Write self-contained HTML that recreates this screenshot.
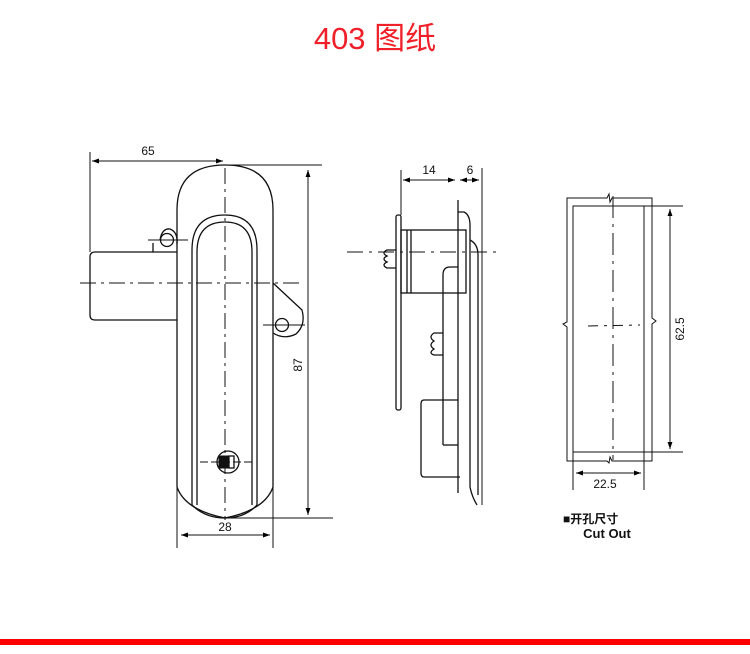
<!DOCTYPE html>
<html><head><meta charset="utf-8"><style>
html,body{margin:0;padding:0;background:#fff;width:750px;height:654px;overflow:hidden}
svg{display:block}
text{font-family:"Liberation Sans","Noto Sans CJK SC",sans-serif}
</style></head><body>
<svg width="750" height="654" viewBox="0 0 750 654" xmlns="http://www.w3.org/2000/svg">
<defs>
<marker id="a" viewBox="0 0 10 10" refX="10" refY="5" markerWidth="7" markerHeight="7" orient="auto-start-reverse"><path d="M0,1.5 L10,5 L0,8.5 z" fill="#000"/></marker>
</defs>
<text x="375" y="49" font-size="31" fill="#f0202a" text-anchor="middle">403 图纸</text>
<rect x="0" y="639" width="750" height="6" fill="#ff0000"/>

<g fill="none" stroke="#111" stroke-width="1.3">
<!-- LEFT VIEW -->
<path d="M177,487 L177,210 Q177,165 225,165 Q273,165 273,210 L273,487 Q265,510 225,518 Q185,510 177,487"/>
<path d="M192,505 L192,250 Q192,215 225,215 Q257,215 257,250 L257,505"/>
<path d="M197,505 L197,252 Q197,222 225,222 Q252,222 252,252 L252,505"/>
<path d="M192,505 Q205,518 225,518 Q245,518 257,505"/>
<path d="M177,252 L153,252 L153,243"/>
<path d="M160,240 Q162,228 170,229 Q178,232 177,244"/>
<circle cx="167" cy="240" r="6.5"/>
<path d="M177,320 L95,320 Q90,320 90,315 L90,257 Q90,252 95,252 L153,252"/>
<path d="M273,283 L302,310 Q306,325 296,334 Q284,340 273,333"/>
<circle cx="282" cy="325" r="6.5"/>
<circle cx="228" cy="462" r="11"/>
<rect x="219" y="456" width="10" height="12" fill="#111" stroke-width="1"/>
<rect x="229" y="456" width="5" height="12"/>
<!-- centerlines -->
<g stroke-width="1" stroke-dasharray="16,5,3,5">
<line x1="225" y1="168" x2="225" y2="520"/>
<line x1="80" y1="283" x2="302" y2="283"/>
<line x1="200" y1="462" x2="255" y2="462" stroke-dasharray="8,3"/>
<line x1="148" y1="240" x2="188" y2="240" stroke-dasharray="none"/>
<line x1="263" y1="325" x2="305" y2="325" stroke-dasharray="none"/>
</g>
<!-- dims -->
<g stroke-width="1">
<line x1="90" y1="152" x2="90" y2="252"/>
<line x1="92" y1="161" x2="223" y2="161" marker-start="url(#a)" marker-end="url(#a)"/>
<line x1="225" y1="165" x2="322" y2="165"/>
<line x1="225" y1="518" x2="333" y2="518"/>
<line x1="308" y1="170" x2="308" y2="515" marker-start="url(#a)" marker-end="url(#a)"/>
<line x1="177" y1="487" x2="177" y2="548"/>
<line x1="273" y1="487" x2="273" y2="548"/>
<line x1="181" y1="535" x2="270" y2="535" marker-start="url(#a)" marker-end="url(#a)"/>
</g>

<!-- MIDDLE VIEW -->
<rect x="396" y="215" width="5" height="195" rx="2"/>
<rect x="401" y="230" width="65" height="63"/>
<line x1="407" y1="230" x2="407" y2="293"/>
<line x1="411" y1="230" x2="411" y2="293"/>
<path d="M396,250 L387,250 Q381,253 387,256 Q381,259 387,262 Q381,265 387,268 L396,268"/>
<path d="M443,333 L434,333 Q428,337 434,341 Q428,345 434,349 Q428,353 434,355 L443,355"/>
<line x1="458" y1="200" x2="458" y2="493"/>
<path d="M458,212 L464,212 Q470,215 470,225 L470,487 Q472,497 477,505"/>
<path d="M470,240 Q478,244 478,255 L478,495"/>
<path d="M443,445 L443,275 Q443,267 450,267 L458,267"/>
<path d="M443,445 L458,445"/>
<path d="M458,400 L424,400 Q421,400 421,404 L421,473 Q421,477 424,477 L460,477"/>
<g stroke-width="1">
<line x1="347" y1="252" x2="497" y2="252" stroke-dasharray="16,6,3,6"/>
<line x1="401" y1="170" x2="401" y2="215"/>
<line x1="482" y1="168" x2="482" y2="505"/>
<line x1="403" y1="180" x2="455" y2="180" marker-start="url(#a)" marker-end="url(#a)"/>
<line x1="460" y1="180" x2="479" y2="180" marker-start="url(#a)" marker-end="url(#a)"/>
</g>

<!-- RIGHT VIEW -->
<path d="M567,198 L607,198 l2,-4 l1,8 l2,-4 L652,198 L652,318 l4,3 l-4,3 L652,461 L612,461 l-2,-4 l-1,6 l-2,-2 L567,461 L567,327 l-4,-3 l4,-2 Z" stroke-width="1"/>
<rect x="573" y="206" width="71" height="246" stroke-width="1"/>
<g stroke-width="1">
<line x1="613" y1="196" x2="613" y2="460" stroke-dasharray="22,6,3,6"/>
<line x1="588" y1="326" x2="640" y2="325" stroke-dasharray="10,6,3,6"/>
<line x1="644" y1="206" x2="683" y2="206"/>
<line x1="644" y1="452" x2="683" y2="452"/>
<line x1="670" y1="209" x2="670" y2="449" marker-start="url(#a)" marker-end="url(#a)"/>
<line x1="573" y1="452" x2="573" y2="490"/>
<line x1="644" y1="452" x2="644" y2="490"/>
<line x1="576" y1="473" x2="641" y2="473" marker-start="url(#a)" marker-end="url(#a)"/>
</g>
</g>

<g font-size="12" fill="#111">
<text x="148" y="155" text-anchor="middle">65</text>
<text x="225" y="531" text-anchor="middle">28</text>
<text transform="translate(302,365) rotate(-90)" text-anchor="middle">87</text>
<text x="429" y="174" text-anchor="middle">14</text>
<text x="470" y="174" text-anchor="middle">6</text>
<text transform="translate(684,329) rotate(-90)" text-anchor="middle">62.5</text>
<text x="605" y="488" text-anchor="middle">22.5</text>
<text x="563" y="523" font-weight="bold" font-size="12">■开孔尺寸</text>
<text x="607" y="538" font-weight="bold" font-size="13" text-anchor="middle">Cut Out</text>
</g>
</svg>
</body></html>
